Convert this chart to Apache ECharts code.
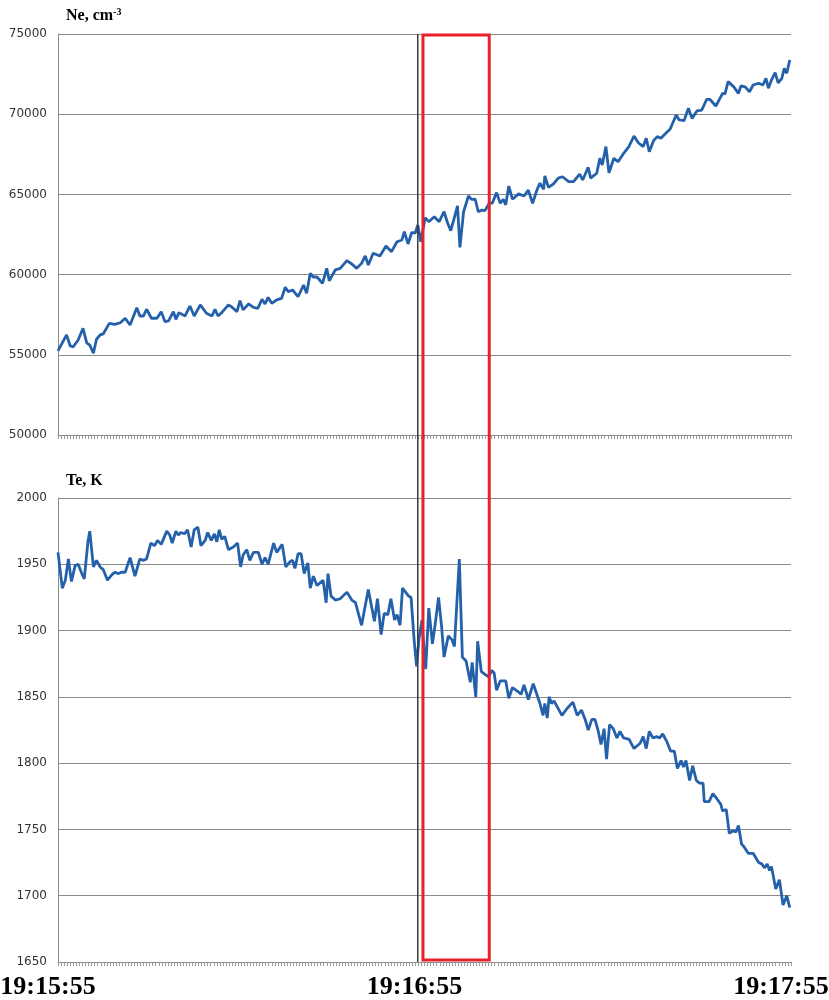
<!DOCTYPE html>
<html>
<head>
<meta charset="utf-8">
<script src="https://cdn.jsdelivr.net/npm/echarts@6/dist/echarts.min.js"></script>
<style>
  html, body { margin: 0; padding: 0; background: #fff; }
  #chart { width: 829px; height: 1000px; }
</style>
</head>
<body>
<div id="chart"></div>
<script>
// seconds after 19:15:55 -> value
const neSamples = [
  [0,55250],[1.4,56240],[2.0,55550],[2.5,55500],[3.3,55920],[4.1,56650],[4.7,55740],[5.2,55610],[5.8,55100],[6.3,55970],
  [6.9,56240],[7.4,56300],[8.4,56960],[9.3,56900],[10.2,57000],[11.0,57280],[11.8,56860],[12.9,57940],[13.4,57420],[14.0,57420],
  [14.5,57840],[15.3,57280],[16.2,57280],[16.9,57690],[17.5,57070],[18.1,57110],[18.9,57690],[19.3,57210],[19.8,57630],[20.8,57420],
  [21.6,58040],[22.3,57420],[23.3,58110],[24.3,57590],[25.2,57420],[25.7,57840],[26.2,57420],[26.8,57630],[27.9,58110],[28.4,58000],
  [29.3,57690],[29.8,58370],[30.3,57800],[31.2,58170],[32.0,57960],[32.7,57900],[33.4,58460],[33.9,58170],[34.4,58580],[35.0,58210],
  [35.8,58420],[36.6,58520],[37.2,59210],[37.7,58940],[38.4,59040],[39.3,58620],[40.2,59350],[40.7,58830],[41.3,60080],[41.8,59850],
  [42.4,59850],[43.3,59460],[44.0,60390],[44.4,59620],[45.4,60290],[46.2,60390],[47.3,60870],[48.1,60660],[48.9,60390],[49.7,60700],
  [50.3,61160],[50.8,60600],[51.6,61330],[52.7,61160],[53.7,61780],[54.6,61430],[55.5,62050],[56.3,62160],[56.7,62680],[57.3,61910],
  [57.9,62610],[58.5,62610],[58.9,63090],[59.4,62050],[60.1,63550],[60.7,63300],[61.6,63610],[62.4,63300],[63.2,63920],[63.8,63200],
  [64.3,62740],[64.9,63570],[65.4,64280],[65.8,61700],[66.4,63920],[67.2,64900],[67.7,64690],[68.3,64700],[68.8,63920],[69.4,64020],
  [69.9,63990],[70.6,64450],[71.1,64450],[71.8,65110],[72.4,64450],[72.9,64690],[73.3,64350],[73.8,65520],[74.4,64700],[75.4,65030],
  [76.3,64900],[77.0,65270],[77.7,64450],[78.4,65270],[78.9,65700],[79.5,65320],[79.7,66150],[80.3,65440],[81.1,65650],[81.9,66010],
  [82.6,66100],[83.6,65800],[84.4,65800],[85.4,66270],[85.9,65900],[86.8,66690],[87.2,66010],[88.2,66320],[88.7,67250],[89.1,66830],
  [89.7,67980],[90.2,66350],[91.0,67250],[91.7,67040],[92.6,67560],[93.4,67940],[94.3,68640],[95.0,68220],[95.8,67980],[96.3,68500],
  [96.8,67660],[97.5,68350],[98.1,68600],[98.7,68500],[99.5,68810],[100.2,69060],[101.2,69950],[101.7,69640],[102.5,69600],[103.2,70370],
  [103.8,69740],[104.6,70200],[105.4,70260],[106.2,70930],[106.7,70930],[107.7,70510],[108.8,71300],[109.2,71270],[109.7,72030],[110.6,71720],
  [111.4,71300],[111.8,71760],[112.5,71700],[113.2,71400],[113.8,71820],[114.7,71930],[115.0,72030],[115.4,71820],[115.9,72240],[116.3,71620],
  [116.8,72130],[117.4,72590],[117.9,71960],[118.5,72240],[118.9,72860],[119.3,72550],[119.8,73380]
];

const teSamples = [
  [0,1959],[0.7,1932],[1.2,1938],[1.7,1954],[2.2,1937],[2.8,1949],[3.3,1950],[3.9,1943],[4.3,1939],[4.9,1967],
  [5.2,1975],[5.8,1948],[6.3,1953],[6.9,1948],[7.4,1946],[8.1,1938],[8.8,1942],[9.3,1944],[9.9,1943],[10.4,1944],
  [11.0,1944],[11.8,1955],[12.6,1941],[13.4,1954],[14.0,1953],[14.5,1954],[15.2,1966],[15.8,1964],[16.3,1968],[16.9,1965],
  [17.8,1975],[18.3,1972],[18.7,1966],[19.3,1975],[19.7,1972],[20.1,1974],[20.7,1973],[21.2,1976],[21.8,1963],[22.3,1976],
  [22.9,1978],[23.4,1964],[24.1,1968],[24.5,1974],[25.1,1968],[25.6,1973],[26.0,1967],[26.4,1976],[26.8,1969],[27.3,1971],
  [27.9,1961],[28.7,1963],[29.4,1966],[29.9,1948],[30.3,1957],[30.9,1961],[31.4,1953],[32.0,1959],[32.8,1959],[33.4,1950],
  [33.9,1955],[34.4,1950],[35.3,1966],[35.8,1959],[36.7,1965],[37.3,1948],[38.0,1952],[38.4,1953],[38.8,1947],[39.3,1958],
  [39.8,1958],[40.3,1943],[40.9,1951],[41.3,1932],[41.8,1941],[42.4,1934],[42.9,1936],[43.4,1938],[43.9,1921],[44.2,1943],
  [44.7,1926],[45.4,1923],[46.2,1924],[47.3,1929],[48.1,1923],[48.7,1921],[49.7,1904],[50.8,1931],[51.8,1907],[52.3,1924],
  [52.9,1897],[53.4,1913],[54.0,1912],[54.5,1924],[55.1,1908],[55.5,1912],[56.0,1904],[56.4,1932],[56.9,1929],[57.4,1926],
  [57.8,1925],[58.3,1893],[58.7,1873],[59.1,1894],[59.6,1908],[59.8,1893],[60.2,1871],[60.7,1917],[61.3,1890],[61.7,1903],
  [62.3,1925],[62.8,1903],[63.2,1880],[63.9,1896],[64.5,1893],[64.9,1888],[65.3,1921],[65.7,1954],[66.2,1880],[66.8,1877],
  [67.5,1861],[67.8,1876],[68.4,1850],[68.7,1892],[69.3,1869],[69.9,1867],[70.5,1865],[71.0,1870],[71.4,1868],[71.8,1855],
  [72.4,1862],[73.3,1862],[73.8,1849],[74.4,1857],[75.3,1854],[75.8,1852],[76.3,1859],[77.0,1848],[77.8,1860],[78.9,1845],
  [79.4,1836],[79.7,1845],[80.1,1834],[80.4,1850],[80.8,1845],[81.2,1847],[82.5,1836],[83.3,1841],[84.3,1846],[85.0,1836],
  [85.7,1840],[86.3,1833],[86.8,1825],[87.4,1833],[87.9,1833],[88.4,1825],[88.9,1814],[89.4,1826],[89.8,1803],[90.3,1829],
  [90.9,1826],[91.5,1819],[92.0,1824],[92.6,1819],[93.5,1818],[94.3,1811],[95.3,1815],[95.8,1820],[96.3,1811],[96.8,1824],
  [97.4,1819],[98.0,1820],[98.5,1819],[99.0,1822],[99.7,1816],[100.3,1809],[100.9,1809],[101.4,1796],[102.0,1802],[102.4,1797],
  [102.8,1802],[103.4,1787],[103.9,1798],[104.5,1787],[105.0,1785],[105.6,1785],[105.8,1771],[106.6,1771],[107.2,1777],[107.9,1773],
  [108.5,1769],[108.8,1764],[109.4,1765],[109.9,1747],[110.5,1749],[111.0,1748],[111.4,1753],[111.9,1739],[112.3,1737],[113.0,1732],
  [113.8,1732],[114.7,1725],[115.2,1724],[115.7,1721],[116.1,1724],[116.5,1719],[116.8,1722],[117.5,1705],[118.1,1712],[118.7,1693],
  [119.3,1700],[119.8,1691]
];

const tickSeconds = [0, 60, 120];
const tickLabels = ['19:15:55', '19:16:55', '19:17:55'];

const markerSecond = 58.9;          // thin black vertical line
const windowSeconds = [59.75, 70.6]; // red box

const lineColor = '#2561ab';
const gridColor = '#8a8a8a';
const serif = '"Liberation Serif", "Times New Roman", serif';

const chart = echarts.init(document.getElementById('chart'));

function xAxisFor(gridIndex, showLabels) {
  return {
    type: 'value', gridIndex, min: 0, max: 120, interval: 0.5,
    axisLine: { show: true, lineStyle: { color: gridColor, width: 1 } },
    axisTick: { show: true, length: 4, lineStyle: { color: '#999' } },
    splitLine: { show: false },
    axisLabel: {
      show: showLabels,
      margin: 12,
      padding: [0, 20, 0, 0],
      fontFamily: serif, fontWeight: 'bold', fontSize: 26, color: '#000',
      formatter: v => {
        const i = tickSeconds.indexOf(v);
        return i >= 0 ? tickLabels[i] : '';
      }
    }
  };
}

function yAxisFor(gridIndex, min, max, interval, name, nameGap) {
  return {
    type: 'value', gridIndex, min, max, interval,
    name, nameLocation: 'end', nameGap,
    nameTextStyle: {
      align: 'left', padding: [0, 0, 0, 8],
      fontFamily: serif, fontWeight: 'bold', fontSize: 16, color: '#000',
      rich: {
        b: { fontFamily: serif, fontWeight: 'bold', fontSize: 16, color: '#000' },
        s: { fontFamily: serif, fontWeight: 'bold', fontSize: 10, color: '#000', padding: [0, 0, 7, 0] }
      }
    },
    axisLine: { show: true, lineStyle: { color: gridColor, width: 1 } },
    axisTick: { show: false },
    axisLabel: {
      margin: 11, fontFamily: '"DejaVu Sans", Verdana, sans-serif', fontSize: 12, color: '#333',
      formatter: v => String(v)
    },
    splitLine: { show: true, lineStyle: { color: gridColor, width: 1 } }
  };
}

chart.setOption({
  animation: false,
  backgroundColor: '#fff',
  grid: [
    { left: 58, right: 38, top: 34, height: 401, outerBoundsMode: 'none' },
    { left: 58, right: 38, top: 498, height: 464, outerBoundsMode: 'none' }
  ],
  xAxis: [xAxisFor(0, false), xAxisFor(1, true)],
  yAxis: [
    yAxisFor(0, 50000, 75000, 5000, '{b|Ne, cm}{s|-3}', 10),
    yAxisFor(1, 1650, 2000, 50, '{b|Te, K}', 9)
  ],
  series: [
    {
      name: 'Ne', type: 'line', xAxisIndex: 0, yAxisIndex: 0,
      data: neSamples, showSymbol: false,
      lineStyle: { color: lineColor, width: 2.8 }
    },
    {
      name: 'Te', type: 'line', xAxisIndex: 1, yAxisIndex: 1,
      data: teSamples, showSymbol: false,
      lineStyle: { color: lineColor, width: 2.8 }
    }
  ]
});

// marker line and red box span both panels, so place them from the axis scales
const markTop = chart.convertToPixel({ gridIndex: 0 }, [markerSecond, 75000]);
const markBottom = chart.convertToPixel({ gridIndex: 1 }, [markerSecond, 1650]);
const boxL = chart.convertToPixel({ gridIndex: 0 }, [windowSeconds[0], 75000]);
const boxR = chart.convertToPixel({ gridIndex: 1 }, [windowSeconds[1], 1650]);

chart.setOption({
  graphic: [
    {
      type: 'line', z: 50,
      shape: { x1: markTop[0], y1: markTop[1], x2: markBottom[0], y2: markBottom[1] },
      style: { stroke: '#3a3a3a', lineWidth: 1.5 }
    },
    {
      type: 'rect', z: 60,
      shape: { x: boxL[0], y: boxL[1] + 1, width: boxR[0] - boxL[0], height: boxR[1] - boxL[1] - 3 },
      style: { fill: 'none', stroke: '#e8212b', lineWidth: 3 }
    }
  ]
});
</script>
</body>
</html>
